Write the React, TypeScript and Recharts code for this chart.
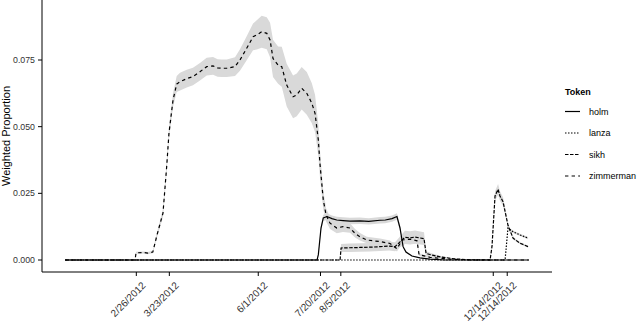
import { ComposedChart, Area, Line, XAxis, YAxis } from 'recharts';

/* day of year 2012 -> weighted proportion, with ribbon half-width */

const holmDays = [1, 199.3, 200.3, 202.4, 204.2, 207.1, 211, 214.8, 219.7, 225.2, 233, 240, 248.9, 253, 258.3, 262.2, 264.6, 267, 269.3, 274, 280.3, 288.2, 300, 366];
const holmVals = [0, 0, 0.002, 0.012, 0.0158, 0.0163, 0.0155, 0.015, 0.0148, 0.0146, 0.0147, 0.0145, 0.0149, 0.015, 0.0155, 0.0163, 0.012, 0.005, 0.003, 0.0015, 0.0008, 0.0003, 0, 0];
const holmBand = [0, 0, 0.0003, 0.001, 0.0012, 0.0012, 0.0012, 0.0012, 0.0012, 0.0012, 0.0012, 0.0012, 0.0012, 0.0012, 0.0012, 0.0012, 0.001, 0.0006, 0.0004, 0.0002, 0.0001, 0, 0, 0];

const lanzaDays = [1, 347.3, 349.6, 353.6, 359.1, 365.4];
const lanzaVals = [0, 0, 0.012, 0.0106, 0.0094, 0.0082];
const lanzaBand = [0, 0, 0.0006, 0.0005, 0.0004, 0.0004];

const sikhDays = [1, 217.4, 218.2, 225, 233, 241, 248.9, 256, 260.7, 264.6, 268.5, 272.5, 276.4, 283.5, 285.1, 290, 296.1, 307.9, 319.7, 335.5, 337, 339.4, 341.8, 343.3, 345.7, 349.6, 353.6, 359.1, 365.4];
const sikhVals = [0, 0, 0.0045, 0.0046, 0.0047, 0.0048, 0.005, 0.0052, 0.005, 0.0068, 0.0085, 0.0083, 0.0086, 0.008, 0.0025, 0.0018, 0.0012, 0.0004, 0.0001, 0, 0.005, 0.024, 0.0265, 0.024, 0.0219, 0.013, 0.0082, 0.0063, 0.005];
const sikhBand = [0, 0, 0.0015, 0.0016, 0.0016, 0.0016, 0.0016, 0.0016, 0.0017, 0.002, 0.0025, 0.0025, 0.0025, 0.0024, 0.0008, 0.0006, 0.0004, 0.0001, 0, 0, 0.0005, 0.0018, 0.002, 0.0018, 0.0016, 0.0008, 0.0005, 0.0004, 0.0003];

const zimDays = [1, 56, 56.8, 63, 66, 70, 73.3, 78, 80.9, 82.7, 85.9, 88.8, 91.4, 96.7, 101.6, 107.1, 112.4, 117.4, 121, 124.2, 128.2, 134.7, 138.6, 143.9, 148.9, 151.8, 155.7, 159.7, 162.3, 164.6, 168.6, 171.5, 175.4, 180.4, 183.3, 187.2, 191.2, 195.1, 197.7, 200.3, 201.6, 204.2, 206.4, 209.5, 214.8, 219.7, 225.2, 229.2, 233.1, 238.4, 248.9, 256.7, 262.2, 266.2, 272.5, 278, 279.6, 288.2, 304, 320, 366];
const zimVals = [0, 0, 0.0027, 0.0028, 0.0026, 0.003, 0.0094, 0.0176, 0.035, 0.0475, 0.06, 0.066, 0.0669, 0.068, 0.0688, 0.0706, 0.0725, 0.0728, 0.072, 0.0719, 0.0719, 0.0725, 0.075, 0.0794, 0.0837, 0.0844, 0.0856, 0.085, 0.0825, 0.0756, 0.0731, 0.0725, 0.0656, 0.0612, 0.0619, 0.0644, 0.0625, 0.0589, 0.055, 0.045, 0.036, 0.0225, 0.0169, 0.0138, 0.012, 0.0125, 0.012, 0.01, 0.0087, 0.0075, 0.0069, 0.0062, 0.0042, 0.0075, 0.0078, 0.0072, 0.002, 0.001, 0.0003, 0, 0];
const zimBand = [0, 0, 0.0004, 0.0004, 0.0004, 0.0005, 0.001, 0.0015, 0.002, 0.0022, 0.0025, 0.003, 0.0033, 0.0033, 0.0033, 0.0033, 0.0033, 0.0033, 0.0033, 0.0033, 0.0033, 0.0035, 0.004, 0.0045, 0.005, 0.0055, 0.006, 0.006, 0.0065, 0.007, 0.007, 0.0075, 0.008, 0.008, 0.008, 0.008, 0.008, 0.0075, 0.007, 0.006, 0.005, 0.0035, 0.0025, 0.0022, 0.002, 0.002, 0.0018, 0.0016, 0.0014, 0.0012, 0.0012, 0.0011, 0.001, 0.0013, 0.0013, 0.0012, 0.0005, 0.0003, 0.0001, 0, 0];

const tickDays = [57, 83, 153, 202, 218, 338, 349];
const tickLabels = ['2/26/2012', '3/23/2012', '6/1/2012', '7/20/2012', '8/5/2012', '12/14/2012', '12/14/2012'];
const yTicks = [0, 0.025, 0.05, 0.075];

const FONT = '"Liberation Sans", Arial, Helvetica, sans-serif';
const RIBBON = '#d9d9d9';

const mk = (days: number[], vals: number[], band: number[]) =>
    days.map((day, i) => ({ day, v: vals[i], band: [vals[i] - band[i], vals[i] + band[i]] }));

const series = [
    { name: 'holm', data: mk(holmDays, holmVals, holmBand), dash: undefined },
    { name: 'lanza', data: mk(lanzaDays, lanzaVals, lanzaBand), dash: '1.5 1.5' },
    { name: 'sikh', data: mk(sikhDays, sikhVals, sikhBand), dash: '3.5 1.5' },
    { name: 'zimmerman', data: mk(zimDays, zimVals, zimBand), dash: '3.4 3.2' },
];

const XTick = ({ x, y, payload }: any) => {
    const i = tickDays.indexOf(payload.value);
    const ax = x + 10;
    const ay = y + 10;
    return (
        <text x={ax} y={ay} transform={`rotate(-45 ${ax} ${ay})`} textAnchor="end"
            fontSize={10} fill="#333" fontFamily={FONT}>
            {i >= 0 ? tickLabels[i] : ''}
        </text>
    );
};

export default function App() {
    return (
        <div style={{ position: 'absolute', left: 0, top: 0, width: 640, height: 324, background: '#fff' }}>
            <ComposedChart width={640} height={324} margin={{ top: 0, right: 88, bottom: 0, left: 0 }}>
                <XAxis type="number" dataKey="day" domain={[-17.25, 384.25]} allowDataOverflow
                    ticks={tickDays} interval={0} tick={<XTick />} tickSize={4} tickMargin={0}
                    height={52} stroke="#000" tickLine={{ stroke: '#000' }} />
                <YAxis type="number" domain={[-0.0045, 0.0975]} allowDataOverflow ticks={yTicks}
                    width={42} tickSize={4} tickMargin={3} stroke="#000" tickLine={{ stroke: '#000' }}
                    tickFormatter={(v: number) => v.toFixed(3)}
                    tick={{ fontSize: 8.8, fill: '#333', fontFamily: FONT }} />
                {series.map((s) => (
                    <Area key={'r' + s.name} data={s.data} dataKey="band" type="linear" stroke="none"
                        fill={RIBBON} fillOpacity={1} isAnimationActive={false} activeDot={false} />
                ))}
                {series.map((s) => (
                    <Line key={s.name} data={s.data} dataKey="v" type="linear" stroke="#000" strokeWidth={1.2}
                        strokeDasharray={s.dash} dot={false} activeDot={false} isAnimationActive={false} />
                ))}
            </ComposedChart>
            <svg width={640} height={324} style={{ position: 'absolute', left: 0, top: 0, pointerEvents: 'none' }}>
                <text x={10} y={136} transform="rotate(-90 10 136)" textAnchor="middle" fontSize={11}
                    fontFamily={FONT} fill="#000">Weighted Proportion</text>
                <text x={565} y={95} fontSize={9} fontWeight="bold" fontFamily={FONT} fill="#000">Token</text>
                {series.map((s, i) => {
                    const cy = 111.5 + i * 21.5;
                    return (
                        <g key={s.name}>
                            <line x1={565} x2={580} y1={cy} y2={cy} stroke="#000" strokeWidth={1.2}
                                strokeDasharray={s.dash} />
                            <text x={589} y={cy + 3.2} fontSize={9} fontFamily={FONT} fill="#000">{s.name}</text>
                        </g>
                    );
                })}
            </svg>
        </div>
    );
}
